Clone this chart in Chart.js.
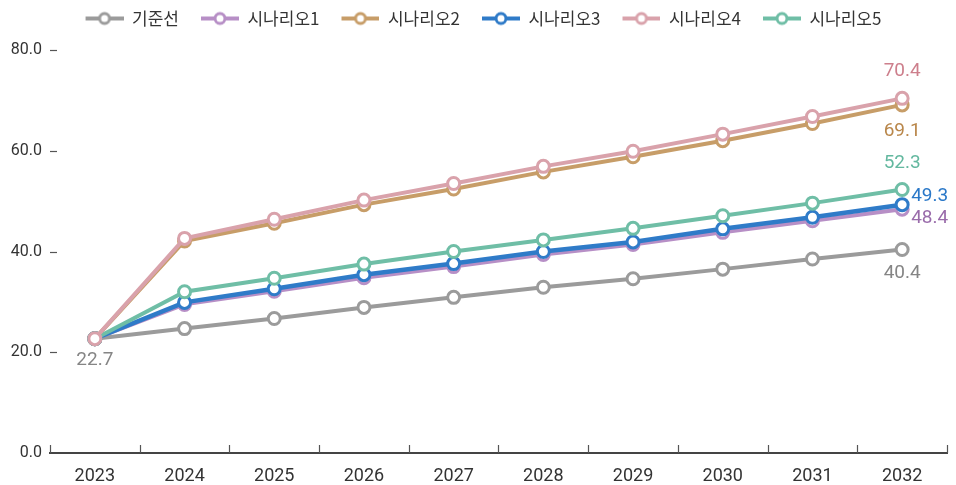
<!DOCTYPE html>
<html>
<head>
<meta charset="utf-8">
<script src="https://cdn.jsdelivr.net/npm/chart.js@4"></script>
<style>
  body { margin: 0; background: #fff; }
</style>
</head>
<body>
<canvas id="myChart" width="956" height="485"></canvas>
<script>
const ctx = document.getElementById('myChart').getContext('2d');

const years = ['2023', '2024', '2025', '2026', '2027', '2028', '2029', '2030', '2031', '2032'];
const seriesNames = ['기준선', '시나리오1', '시나리오2', '시나리오3', '시나리오4', '시나리오5'];

const baseline  = [22.7, 24.7, 26.7, 28.9, 30.9, 32.9, 34.6, 36.5, 38.5, 40.4];
const scenario1 = [22.7, 29.5, 32.1, 34.8, 37.0, 39.4, 41.4, 43.8, 46.1, 48.4];
const scenario2 = [22.7, 42.1, 45.6, 49.3, 52.4, 55.8, 58.8, 62.0, 65.4, 69.1];
const scenario3 = [22.7, 29.9, 32.6, 35.4, 37.6, 40.0, 41.9, 44.5, 46.8, 49.3];
const scenario4 = [22.7, 42.6, 46.4, 50.2, 53.5, 56.9, 59.9, 63.3, 66.8, 70.4];
const scenario5 = [22.7, 32.0, 34.7, 37.5, 40.0, 42.3, 44.6, 47.1, 49.6, 52.3];

const yTicks = [0, 20, 40, 60, 80];

const lineColors  = ['#9b9b9b', '#b78fc6', '#c79d68', '#2f7bc8', '#d9a2ab', '#6fbea6'];
const labelColors = ['#858585', '#9a6cab', '#b9874b', '#2a78c8', '#cd7f8c', '#63b89f'];
// drawing order: higher number sits underneath
const drawOrder = [5, 4, 3, 2, 0, 1];

// where the value at the last point goes, relative to the point
const endLabelPos = [
	{ dx: 0, dy: 24, align: 'center' },
	{ dx: 9, dy: 9, align: 'left' },
	{ dx: 0, dy: 26, align: 'center' },
	{ dx: 9, dy: -8, align: 'left' },
	{ dx: 0, dy: -27, align: 'center' },
	{ dx: 0, dy: -26, align: 'center' }
];

//legend marker: line with an open circle
function legendMark(color) {
	const c = document.createElement('canvas');
	c.width = 50;
	c.height = 16;
	const g = c.getContext('2d');
	g.strokeStyle = color;
	g.lineWidth = 4;
	g.beginPath();
	g.moveTo(12, 8);
	g.lineTo(50, 8);
	g.stroke();
	g.beginPath();
	g.arc(31, 8, 5, 0, Math.PI * 2);
	g.fillStyle = '#fff';
	g.fill();
	g.lineWidth = 3;
	g.stroke();
	return c;
}
const legendMarks = lineColors.map(legendMark);

const values = [baseline, scenario1, scenario2, scenario3, scenario4, scenario5];

const data = {
	labels: years,
	datasets: values.map((v, i) => ({
		label: seriesNames[i],
		data: v,
		borderColor: lineColors[i],
		backgroundColor: lineColors[i],
		borderWidth: i === 3 ? 4.5 : 4,
		pointRadius: 6,
		pointBorderWidth: 3,
		pointBackgroundColor: '#fff',
		pointBorderColor: lineColors[i],
		tension: 0,
		fill: false,
		order: drawOrder[i]
	}))
};

const valueLabels = {
	id: 'valueLabels',
	afterDatasetsDraw(chart) {
		const c = chart.ctx;
		c.save();
		c.font = '19px Roboto';
		c.textBaseline = 'middle';
		chart.data.datasets.forEach((ds, i) => {
			const pts = chart.getDatasetMeta(i).data;
			const last = pts.length - 1;
			const pos = endLabelPos[i];
			c.fillStyle = labelColors[i];
			c.textAlign = pos.align;
			c.fillText(ds.data[last].toFixed(1), pts[last].x + pos.dx, pts[last].y + pos.dy);
			if (i === 0) {
				c.textAlign = 'center';
				c.fillText(ds.data[0].toFixed(1), pts[0].x, pts[0].y + 22);
			}
		});
		c.restore();
	}
};

//small tick marks: inward dashes on y, upward marks between categories on x
const axisMarks = {
	id: 'axisMarks',
	afterDraw(chart) {
		const c = chart.ctx;
		const x = chart.scales.x;
		const y = chart.scales.y;
		const area = chart.chartArea;
		c.save();
		c.strokeStyle = '#555';
		c.lineWidth = 1.2;
		y.ticks.forEach(t => {
			if (t.value === 0) return;
			const py = Math.round(y.getPixelForValue(t.value)) + 0.5;
			c.beginPath();
			c.moveTo(area.left, py);
			c.lineTo(area.left + 7, py);
			c.stroke();
		});
		const half = (x.getPixelForValue(1) - x.getPixelForValue(0)) / 2;
		for (let i = 0; i <= years.length; i++) {
			const px = Math.round(x.getPixelForValue(0) - half + i * half * 2) + 0.5;
			c.beginPath();
			c.moveTo(px, area.bottom);
			c.lineTo(px, area.bottom - 8);
			c.stroke();
		}
		c.restore();
	}
};

const config = {
	type: 'line',
	data: data,
	options: {
		responsive: false,
		animation: false,
		layout: {
			padding: { top: 0, right: 1 }
		},
		plugins: {
			tooltip: { enabled: false },
			legend: {
				position: 'top',
				labels: {
					usePointStyle: true,
					pointStyleWidth: 50,
					boxHeight: 16,
					padding: 10,
					color: '#333',
					font: { family: 'Noto Sans CJK KR', size: 17 },
					sort: (a, b) => a.datasetIndex - b.datasetIndex,
					generateLabels(chart) {
						const items = Chart.defaults.plugins.legend.labels.generateLabels(chart);
						items.forEach(it => { it.pointStyle = legendMarks[it.datasetIndex]; });
						return items;
					}
				}
			}
		},
		scales: {
			y: {
				min: 0,
				max: 80,
				afterFit(scale) { scale.width = 50; },
				afterBuildTicks(scale) { scale.ticks = yTicks.map(v => ({ value: v })); },
				grid: { display: false, drawTicks: false },
				border: { display: false },
				ticks: {
					padding: 8,
					color: '#333',
					font: { family: 'Roboto', size: 16 },
					callback: function (value) {
						return value.toFixed(1);
					}
				}
			},
			x: {
				offset: true,
				afterFit(scale) {
					scale.height = 32;
					scale.paddingLeft = 0;
					scale.paddingRight = 0;
				},
				grid: { display: false, drawTicks: false },
				border: { display: true, color: '#444', width: 2 },
				ticks: {
					padding: 13,
					color: '#333',
					maxRotation: 0,
					font: { family: 'Roboto', size: 18 }
				}
			}
		}
	},
	plugins: [valueLabels, axisMarks]
};

const myChart = new Chart(ctx, config);

// leave a gap under the legend before the plot starts
const legendFit = myChart.legend.fit;
myChart.legend.fit = function () {
	legendFit.call(this);
	this.height += 13;
};
// let the plot run out to the right edge; the year labels fit inside their bands
['x', 'y'].forEach(id => {
	const s = myChart.scales[id];
	const pad = s.getPadding.bind(s);
	s.getPadding = () => Object.assign({}, pad(), { left: 0, right: 0 });
});
myChart.update();
</script>
</body>
</html>
